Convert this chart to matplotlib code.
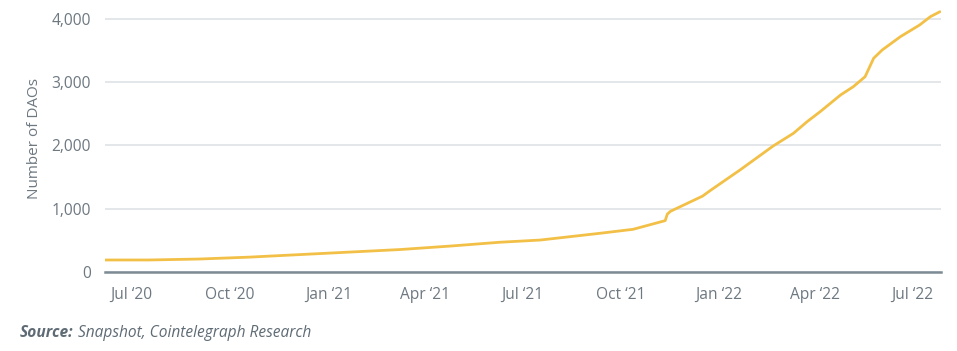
import datetime as dt
import matplotlib.pyplot as plt
from matplotlib.ticker import FuncFormatter

plt.rcParams['font.family'] = ['Open Sans', 'DejaVu Sans']

# cumulative number of DAOs on Snapshot
dates = ['2020-06-06', '2020-07-17', '2020-09-02', '2020-10-19', '2020-12-05',
         '2021-01-21', '2021-03-09', '2021-04-25', '2021-06-10', '2021-07-18',
         '2021-09-12', '2021-10-13', '2021-11-12', '2021-11-14', '2021-11-17',
         '2021-12-17', '2021-12-24', '2022-01-21', '2022-02-21', '2022-03-12',
         '2022-03-25', '2022-04-06', '2022-04-25', '2022-05-07', '2022-05-18',
         '2022-05-26', '2022-06-03', '2022-06-20', '2022-07-08', '2022-07-18',
         '2022-07-27']
daos = [190, 190, 205, 235, 275,
        315, 355, 410, 470, 505,
        612, 675, 812, 915, 960,
        1200, 1286, 1613, 1992, 2193,
        2380, 2535, 2798, 2930, 3088,
        3379, 3510, 3720, 3905, 4036,
        4115]
tick_dates = ['2020-07-01', '2020-10-01', '2021-01-01', '2021-04-01', '2021-07-01',
              '2021-10-01', '2022-01-01', '2022-04-01', '2022-07-01']
tick_labels = ['Jul \u201820', 'Oct \u201820', 'Jan \u201821', 'Apr \u201821', 'Jul \u201821',
               'Oct \u201821', 'Jan \u201822', 'Apr \u201822', 'Jul \u201822']

x = [dt.datetime.strptime(d, '%Y-%m-%d') for d in dates]
ticks = [dt.datetime.strptime(d, '%Y-%m-%d') for d in tick_dates]

fig = plt.figure(figsize=(9.57, 3.51), dpi=100)
ax = fig.add_axes([105 / 957, 1 - 272 / 351, 836 / 957, 267 / 351])

ax.plot(x, daos, color='#F3C047', lw=2.0, solid_capstyle='round')

ax.set_xlim(dt.datetime(2020, 6, 6), dt.datetime(2022, 7, 28))
ax.set_ylim(0, 4221)
ax.set_yticks([0, 1000, 2000, 3000, 4000])
ax.yaxis.set_major_formatter(FuncFormatter(lambda v, p: f'{int(v):,}'))
ax.set_xticks(ticks)
ax.set_xticklabels(tick_labels)

ax.grid(axis='y', color='#dfe3e6', lw=1.2)
ax.set_axisbelow(True)
for s in ['top', 'right', 'left']:
    ax.spines[s].set_visible(False)
ax.spines['bottom'].set_color('#7d8b94')
ax.spines['bottom'].set_linewidth(1.8)

ax.tick_params(axis='both', length=0, labelsize=11.2, labelcolor='#6d7881')
ax.tick_params(axis='x', pad=11)
ax.tick_params(axis='y', pad=10)
ax.set_ylabel('Number of DAOs', fontsize=11, color='#6d7881', labelpad=7)

src = fig.text(20 / 957, 1 - 337 / 351, 'Source:', fontsize=11.2, color='#5f6b74',
               fontweight='bold', style='italic')
ax.annotate(' Snapshot, Cointelegraph Research', xy=(1, 0), xycoords=src,
            fontsize=11.2, color='#5f6b74', style='italic', va='bottom')

plt.savefig('out.png', dpi=100)
